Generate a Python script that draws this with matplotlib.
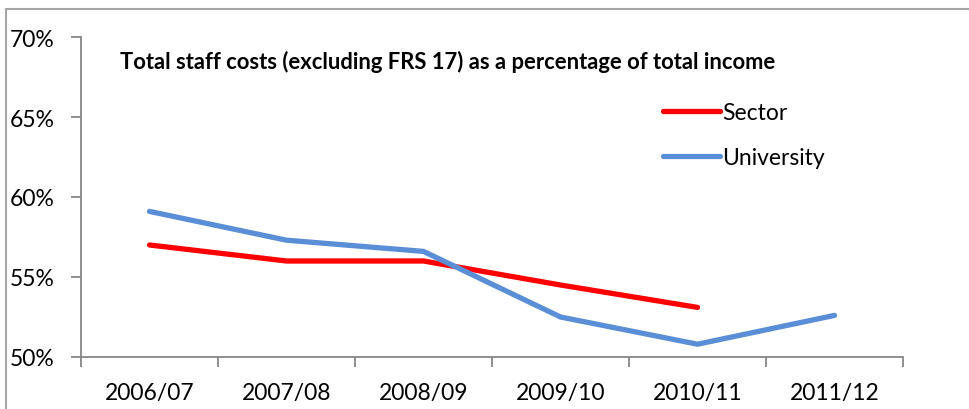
import matplotlib
matplotlib.use("Agg")
import matplotlib.pyplot as plt
from matplotlib.patches import Rectangle
from matplotlib.ticker import FixedLocator, PercentFormatter

# Values
years = ["2006/07", "2007/08", "2008/09", "2009/10", "2010/11", "2011/12"]
sector = [57.0, 56.0, 56.0, 54.5, 53.1]
university = [59.1, 57.3, 56.6, 52.5, 50.8, 52.6]

plt.rcParams['font.family'] = ['Lato', 'DejaVu Sans']

fig = plt.figure(figsize=(9.7, 4.1), dpi=100)
ax = fig.add_axes([81 / 970, 1 - 358 / 410, 822 / 970, 320 / 410])

# outer chart border (cropped on the right and bottom)
fig.patches.append(Rectangle((6.5 / 970, -0.1), 1.2, 1 - 9.5 / 410 + 0.1,
                             transform=fig.transFigure, fill=False,
                             edgecolor='#a6a6a6', linewidth=1.5))

x = list(range(len(years)))
ax.plot(x[:len(sector)], sector, color='#ff0000', linewidth=3.8,
        solid_capstyle='round', solid_joinstyle='round', label='Sector')
ax.plot(x, university, color='#5a8ed6', linewidth=3.8,
        solid_capstyle='round', solid_joinstyle='round', label='University')

ax.set_xlim(-0.5, len(years) - 0.5)
ax.set_ylim(50, 70)
ax.set_yticks([50, 55, 60, 65, 70])
ax.yaxis.set_major_formatter(PercentFormatter(decimals=0))
ax.set_xticks(x)
ax.set_xticklabels(years)
ax.xaxis.set_minor_locator(FixedLocator([i - 0.5 for i in range(len(years) + 1)]))

for side in ['top', 'right']:
    ax.spines[side].set_visible(False)
for side in ['left', 'bottom']:
    ax.spines[side].set_color('#868686')
    ax.spines[side].set_linewidth(1.3)

ax.tick_params(axis='x', which='major', length=0, pad=18, labelsize=16.5)
ax.tick_params(axis='x', which='minor', length=7, width=1.3, color='#868686')
ax.tick_params(axis='y', length=7, width=1.3, color='#868686', pad=12, labelsize=16.5)

fig.text(120 / 970, 1 - 62 / 410, "Total staff costs (excluding FRS 17) as a percentage of total income",
         fontsize=15.8, fontweight='bold', va='center', ha='left')

ax.legend(loc='upper left', bbox_to_anchor=(663 / 970, 1 - 103 / 410),
          bbox_transform=fig.transFigure, frameon=False, fontsize=16.5,
          handlelength=2.5, handletextpad=0.1, labelspacing=1.05,
          borderpad=0, borderaxespad=0)

fig.savefig("out.png", dpi=100)
